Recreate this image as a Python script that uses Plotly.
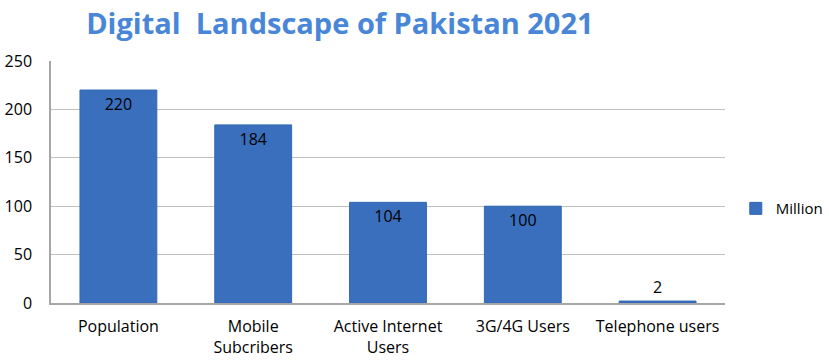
import plotly.graph_objects as go

categories = ["Population", "Mobile<br>Subcribers", "Active Internet<br>Users", "3G/4G Users", "Telephone users"]
values = [220, 184, 104, 100, 2]
series_name = "Million"
title_text = "Digital  Landscape of Pakistan 2021"
y_ticks = [0, 50, 100, 150, 200, 250]

FONT = "Open Sans"

fig = go.Figure()
fig.add_trace(go.Bar(
    x=categories,
    y=values,
    name=series_name,
    text=[str(v) for v in values],
    textposition=["inside", "inside", "inside", "inside", "outside"],
    insidetextanchor="end",
    textfont=dict(family=FONT, size=16, color="black"),
    constraintext="none",
    cliponaxis=False,
    marker=dict(color="#3a6fbd", line=dict(color="#3168b4", width=1)),
    showlegend=True,
))

fig.update_layout(
    width=829, height=363,
    margin=dict(l=51, r=104, t=61, b=60, autoexpand=False),
    paper_bgcolor="white", plot_bgcolor="white",
    bargap=0.43,
    font=dict(family=FONT, size=16, color="black"),
    title=dict(text="<b>" + title_text + "</b>", x=0.41, xanchor="center", y=0.935, yanchor="middle",
               font=dict(family=FONT, size=29, color="#4a86d8")),
    legend=dict(x=1.016, y=0.39, xanchor="left", yanchor="middle",
                font=dict(family=FONT, size=15, color="black"), itemwidth=30),
    xaxis=dict(showline=True, linecolor="#a6a6a6", linewidth=1.5, showgrid=False,
               ticks="", automargin=False, ticklabelstandoff=8,
               tickfont=dict(family=FONT, size=16, color="black")),
    yaxis=dict(range=[0, 250], tickvals=y_ticks, showline=True, linecolor="#a6a6a6", linewidth=1.5,
               showgrid=True, gridcolor="#bfbfbf", gridwidth=1, zeroline=False, automargin=False,
               ticks="", ticklabelstandoff=14, tickfont=dict(family=FONT, size=16, color="black")),
)

fig.write_html("out.html", config={"displayModeBar": False},
               post_script="document.body.style.margin='0';document.body.style.overflow='hidden';")
